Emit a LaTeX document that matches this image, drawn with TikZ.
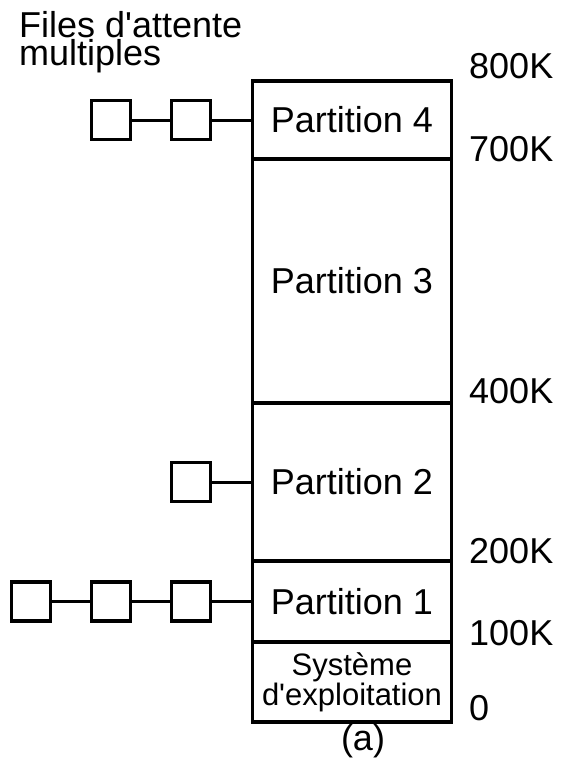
\documentclass[tikz,border=0pt]{standalone}
\usepackage{fontspec}
\setmainfont{Liberation Sans}
\usetikzlibrary{positioning}

\begin{document}
\begin{tikzpicture}[
    x=1pt, y=-1pt,
    font=\fontsize{36}{25}\selectfont,
    part/.style={
        rectangle, draw, line width=3.3pt,
        minimum width=199pt, minimum height=#1,
        inner sep=0pt, outer sep=0pt,
    },
    qbox/.style={
        rectangle, draw, line width=3.3pt,
        minimum size=39pt, inner sep=0pt, outer sep=0pt,
    },
    link/.style={line width=3pt},
    addr/.style={anchor=base west, inner sep=0pt},
    node distance=0pt and 42pt,
]
\useasboundingbox (0,0) rectangle (565,758);

% =================================================
% Memory partitions, top to bottom
% =================================================
\node[part=78pt] (p4) at (352,120) {Partition 4};
\node[part=244pt, below=of p4] (p3) {Partition 3};
\node[part=158pt, below=of p3] (p2) {Partition 2};
\node[part=81pt,  below=of p2] (p1) {Partition 1};
\node[part=80pt,  below=of p1, align=center,
      font=\fontsize{31}{27}\selectfont] (os) {Système\\d\textquotesingle exploitation};

\node[inner sep=0pt] (cap) at (363,741) {(a)};

% =================================================
% Address marks
% =================================================
\node[addr] (a800) at (469,78)  {800K};
\node[addr] (a700) at (469,161) {700K};
\node[addr] (a400) at (469,403) {400K};
\node[addr] (a200) at (469,563) {200K};
\node[addr] (a100) at (469,645) {100K};
\node[addr] (a0)   at (469,720) {0};

% =================================================
% Input queues
% =================================================
\node[align=left, anchor=base west, inner sep=0pt] (title) at (19,65)
    {Files d\textquotesingle attente\\multiples};

\node[qbox, left=of p4]       (q42) {};
\node[qbox, left=41pt of q42] (q41) {};

\node[qbox, left=of p2]       (q21) {};

\node[qbox, left=of p1]       (q13) {};
\node[qbox, left=41pt of q13] (q12) {};
\node[qbox, left=41pt of q12] (q11) {};

\draw[link] (q41) -- (q42);
\draw[link] (q42) -- (p4);
\draw[link] (q21) -- (p2);
\draw[link] (q11) -- (q12);
\draw[link] (q12) -- (q13);
\draw[link] (q13) -- (p1);

\end{tikzpicture}
\end{document}
